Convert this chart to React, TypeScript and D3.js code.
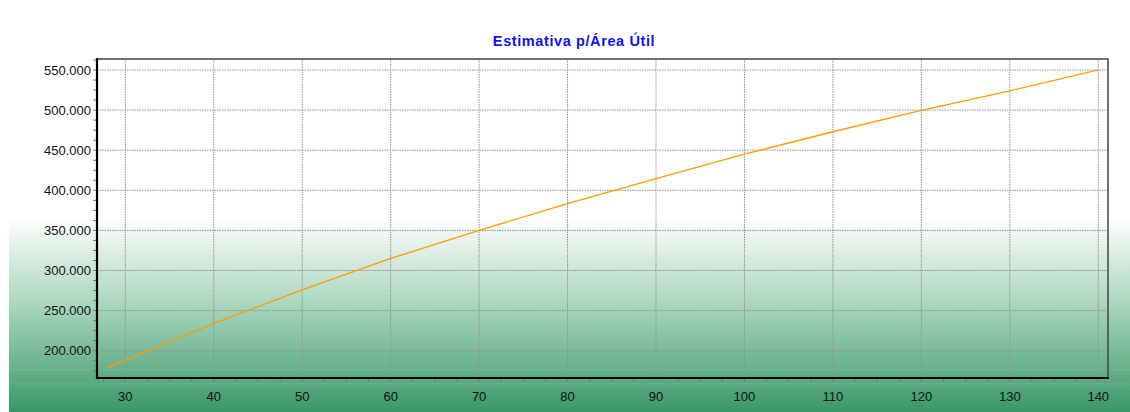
import React, { useEffect, useRef } from "react";
import * as d3 from "d3";

// values
const areas = [28, 30, 40, 50, 60, 70, 80, 90, 100, 110, 120, 130, 140];
const estimates = [
  179000, 188000, 234000, 276000, 315000, 350000, 383500, 414500, 445000,
  473000, 499700, 524000, 550000,
];
const xTicks = [30, 40, 50, 60, 70, 80, 90, 100, 110, 120, 130, 140];
const yTicks = [200000, 250000, 300000, 350000, 400000, 450000, 500000, 550000];
const title = "Estimativa p/Área Útil";

const W = 1130;
const H = 412;

const App: React.FC = () => {
  const ref = useRef<SVGSVGElement | null>(null);

  useEffect(() => {
    if (!ref.current) return;
    const svg = d3.select(ref.current);
    svg.selectAll("*").remove();

    const left = 97,
      right = 1108,
      top = 59,
      bottom = 378;

    const x = d3.scaleLinear().domain([26.8, 141.1]).range([left, right]);
    const y = d3.scaleLinear().domain([166000, 563700]).range([bottom, top]);

    const locale = d3.formatLocale({
      decimal: ",",
      thousands: ".",
      grouping: [3],
      currency: ["", ""],
    });
    const fmt = locale.format(",d");

    // background gradient
    const defs = svg.append("defs");
    const grad = defs
      .append("linearGradient")
      .attr("id", "bg")
      .attr("x1", 0)
      .attr("y1", 0)
      .attr("x2", 0)
      .attr("y2", 1);
    grad.append("stop").attr("offset", "0%").attr("stop-color", "#ffffff");
    grad.append("stop").attr("offset", "45%").attr("stop-color", "#a9d6bd");
    grad.append("stop").attr("offset", "100%").attr("stop-color", "#3a9768");

    svg.append("rect").attr("width", W).attr("height", H).attr("fill", "#fff");
    svg
      .append("rect")
      .attr("x", 9)
      .attr("y", 217)
      .attr("width", W - 9)
      .attr("height", H - 217)
      .attr("fill", "url(#bg)");

    // faint bands near the bottom
    [370, 384].forEach((yy) =>
      svg
        .append("line")
        .attr("x1", 9)
        .attr("x2", W)
        .attr("y1", yy)
        .attr("y2", yy)
        .attr("stroke", "#ffffff")
        .attr("stroke-opacity", 0.12)
    );

    // grid
    const grid = svg.append("g").attr("stroke", "#929292").attr("stroke-dasharray", "1.5,1");
    grid
      .selectAll("line.v")
      .data(xTicks)
      .join("line")
      .attr("x1", (d) => x(d))
      .attr("x2", (d) => x(d))
      .attr("y1", top)
      .attr("y2", bottom);
    grid
      .selectAll("line.h")
      .data(yTicks)
      .join("line")
      .attr("x1", left)
      .attr("x2", right)
      .attr("y1", (d) => y(d))
      .attr("y2", (d) => y(d));

    // ticks (major + minor)
    const xMinor = d3.range(27.5, 141, 2.5);
    const yMinor = d3.range(175000, 563000, 12500);
    svg
      .append("g")
      .attr("stroke", "#777")
      .selectAll("line")
      .data(xMinor)
      .join("line")
      .attr("x1", (d) => x(d))
      .attr("x2", (d) => x(d))
      .attr("y1", bottom)
      .attr("y2", bottom + 4);
    svg
      .append("g")
      .attr("stroke", "#777")
      .selectAll("line")
      .data(yMinor)
      .join("line")
      .attr("x1", left - 4)
      .attr("x2", left)
      .attr("y1", (d) => y(d))
      .attr("y2", (d) => y(d));

    // frame
    svg
      .append("rect")
      .attr("x", left)
      .attr("y", top)
      .attr("width", right - left)
      .attr("height", bottom - top)
      .attr("fill", "none")
      .attr("stroke", "#444")
      .attr("stroke-width", 1.5);
    svg
      .append("path")
      .attr("d", `M${left},${top - 1}V${bottom}H${right + 1}`)
      .attr("fill", "none")
      .attr("stroke", "#000")
      .attr("stroke-width", 2.2);

    // line
    const line = d3
      .line<number>()
      .x((_, i) => x(areas[i]))
      .y((d) => y(d));
    svg
      .append("path")
      .datum(estimates)
      .attr("d", line)
      .attr("fill", "none")
      .attr("stroke", "#ff9c00")
      .attr("stroke-width", 1.3);

    // labels
    const font = "'Liberation Sans', Arial, Helvetica, sans-serif";
    svg
      .append("g")
      .selectAll("text")
      .data(yTicks)
      .join("text")
      .attr("x", left - 6)
      .attr("y", (d) => y(d))
      .attr("dy", "0.35em")
      .attr("text-anchor", "end")
      .attr("font-family", font)
      .attr("font-size", 13)
      .attr("fill", "#111")
      .text((d) => fmt(d));
    svg
      .append("g")
      .selectAll("text")
      .data(xTicks)
      .join("text")
      .attr("x", (d) => x(d))
      .attr("y", 396)
      .attr("dy", "0.35em")
      .attr("text-anchor", "middle")
      .attr("font-family", font)
      .attr("font-size", 13)
      .attr("fill", "#111")
      .text((d) => d);

    svg
      .append("text")
      .attr("x", 574)
      .attr("y", 41)
      .attr("dy", "0.35em")
      .attr("text-anchor", "middle")
      .attr("font-family", font)
      .attr("font-size", 14.5)
      .attr("font-weight", "bold")
      .attr("letter-spacing", 0.6)
      .attr("fill", "#1010f0")
      .text(title);
  }, []);

  return (
    <svg
      ref={ref}
      width={W}
      height={H}
      style={{ position: "fixed", left: 0, top: 0, display: "block" }}
    />
  );
};

export default App;
